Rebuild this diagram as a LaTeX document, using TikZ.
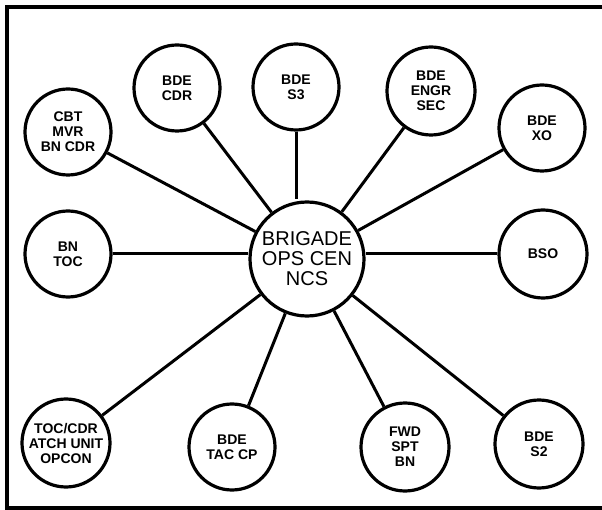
\documentclass[tikz,border=0pt]{standalone}
\usepackage{fontspec}
\setmainfont{Liberation Sans}
\begin{document}
\begin{tikzpicture}[x=1pt,y=-1pt,
  sat/.style={circle,draw,line width=3.2pt,inner sep=0pt,minimum size=86pt,align=center,
    font=\fontsize{14}{15}\selectfont\bfseries},
  hub/.style={circle,draw,line width=3.2pt,inner sep=0pt,minimum size=114pt,align=center,
    font=\fontsize{20}{20}\selectfont},
  link/.style={line width=3pt},
  frame/.style={line width=3.2pt}]
\useasboundingbox (0,0) rectangle (602,510);
\coordinate (tl) at (7,7);
\coordinate (tr) at (602,7);
\coordinate (bl) at (7,508);
\coordinate (br) at (602,508);
\draw[frame] (tr) -- (tl) -- (bl) -- (br);

\node[hub] (c) at (307,259) {BRIGADE\\OPS CEN\\NCS};
\node[sat] (cbt) at (68,132) {CBT\\MVR\\BN CDR};
\node[sat] (cdr) at (177,88) {BDE\\CDR};
\node[sat] (s3) at (296,87) {BDE\\S3};
\node[sat,minimum size=88pt] (engr) at (431,91) {BDE\\ENGR\\SEC};
\node[sat] (xo) at (542,128) {BDE\\XO};
\node[sat] (bntoc) at (68,254) {BN\\TOC};
\node[sat,minimum size=88pt] (bso) at (543,254) {BSO};
\node[sat,minimum size=88pt] (toc) at (66,443) {TOC/CDR\\ATCH UNIT\\OPCON};
\node[sat] (tac) at (232,447) {BDE\\TAC CP};
\node[sat,minimum size=88pt] (fwd) at (405,447) {FWD\\SPT\\BN};
\node[sat,minimum size=88pt] (s2) at (539,444) {BDE\\S2};

\foreach \n in {cbt,cdr,engr,xo,toc,tac,fwd,s2}
  \draw[link] (c) -- (\n);
\draw[link] (s3.south) -- ([yshift=1pt]c.north -| s3.south);
\draw[link] (bntoc.east) -- (c.west |- bntoc.east);
\draw[link] (c.east |- bso.west) -- (bso.west);
\end{tikzpicture}
\end{document}
